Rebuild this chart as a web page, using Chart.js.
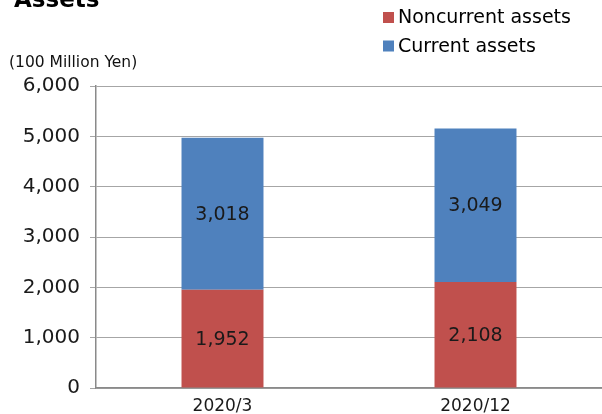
<!DOCTYPE html>
<html>
<head>
<meta charset="utf-8">
<script src="https://cdn.jsdelivr.net/npm/chart.js@4"></script>
<style>
  html, body { margin: 0; padding: 0; background: #fff; }
  canvas { display: block; }
</style>
</head>
<body>
<canvas id="assets" width="602" height="414"></canvas>
<script>
const periods = ['2020/3', '2020/12'];
const noncurrentAssets = [1952, 2108];
const currentAssets = [3018, 3049];
const seriesNames = ['Noncurrent assets', 'Current assets'];
const seriesColors = ['#C0504D', '#4F81BD'];
const chartTitle = 'Assets';
const unitLabel = '(100 Million Yen)';

const FONT = '"DejaVu Sans", sans-serif';

function fmt(v) {
  return v.toLocaleString('en-US');
}

// title, unit text and the two-row legend at top right
const decorations = {
  id: 'decorations',
  afterDraw(chart) {
    const ctx = chart.ctx;
    ctx.save();
    ctx.fillStyle = '#000';
    ctx.textAlign = 'left';
    ctx.textBaseline = 'alphabetic';
    ctx.font = 'bold 23px ' + FONT;
    ctx.fillText(chartTitle, 14, 7);

    ctx.fillStyle = '#111';
    ctx.font = '15.5px ' + FONT;
    ctx.fillText(unitLabel, 9, 67);

    ctx.font = '19px ' + FONT;
    chart.data.datasets.forEach((ds, i) => {
      const top = 12 + i * 28.5;
      ctx.fillStyle = ds.backgroundColor;
      ctx.fillRect(383, top, 11, 11);
      ctx.fillStyle = '#000';
      ctx.fillText(ds.label, 398, top + 11);
    });
    ctx.restore();
  }
};

// value labels in the middle of each segment
const segmentLabels = {
  id: 'segmentLabels',
  afterDatasetsDraw(chart) {
    const ctx = chart.ctx;
    ctx.save();
    ctx.font = '19px ' + FONT;
    ctx.fillStyle = '#1a1a1a';
    ctx.textAlign = 'center';
    ctx.textBaseline = 'middle';
    chart.data.datasets.forEach((ds, i) => {
      chart.getDatasetMeta(i).data.forEach((bar, j) => {
        const p = bar.getProps(['x', 'y', 'base'], true);
        ctx.fillText(fmt(ds.data[j]), p.x, (p.y + p.base) / 2 + 1);
      });
    });
    ctx.restore();
  }
};

new Chart(document.getElementById('assets').getContext('2d'), {
  type: 'bar',
  data: {
    labels: periods,
    datasets: [
      { label: seriesNames[0], data: noncurrentAssets, backgroundColor: seriesColors[0] },
      { label: seriesNames[1], data: currentAssets, backgroundColor: seriesColors[1] }
    ]
  },
  options: {
    responsive: false,
    animation: false,
    maintainAspectRatio: false,
    layout: { padding: { top: 86, left: 0, right: 0, bottom: 0 } },
    datasets: {
      bar: { categoryPercentage: 1, barPercentage: 0.324, borderWidth: 0 }
    },
    scales: {
      x: {
        stacked: true,
        grid: { display: false, drawTicks: false },
        border: { color: '#8a8a8a', width: 1.5 },
        ticks: { color: '#1a1a1a', font: { family: FONT, size: 17 }, padding: 8 },
        afterFit(scale) { scale.height = 26; }
      },
      y: {
        stacked: true,
        min: 0,
        max: 6000,
        grid: { color: '#a6a6a6', lineWidth: 1, tickLength: 6 },
        border: { color: '#8a8a8a', width: 1.5 },
        ticks: {
          stepSize: 1000,
          color: '#1a1a1a',
          padding: 10,
          font: { family: FONT, size: 20 },
          callback: v => fmt(v)
        },
        afterFit(scale) { scale.width = 96; }
      }
    },
    plugins: {
      legend: { display: false },
      tooltip: { enabled: false }
    }
  },
  plugins: [segmentLabels, decorations]
});
</script>
</body>
</html>
